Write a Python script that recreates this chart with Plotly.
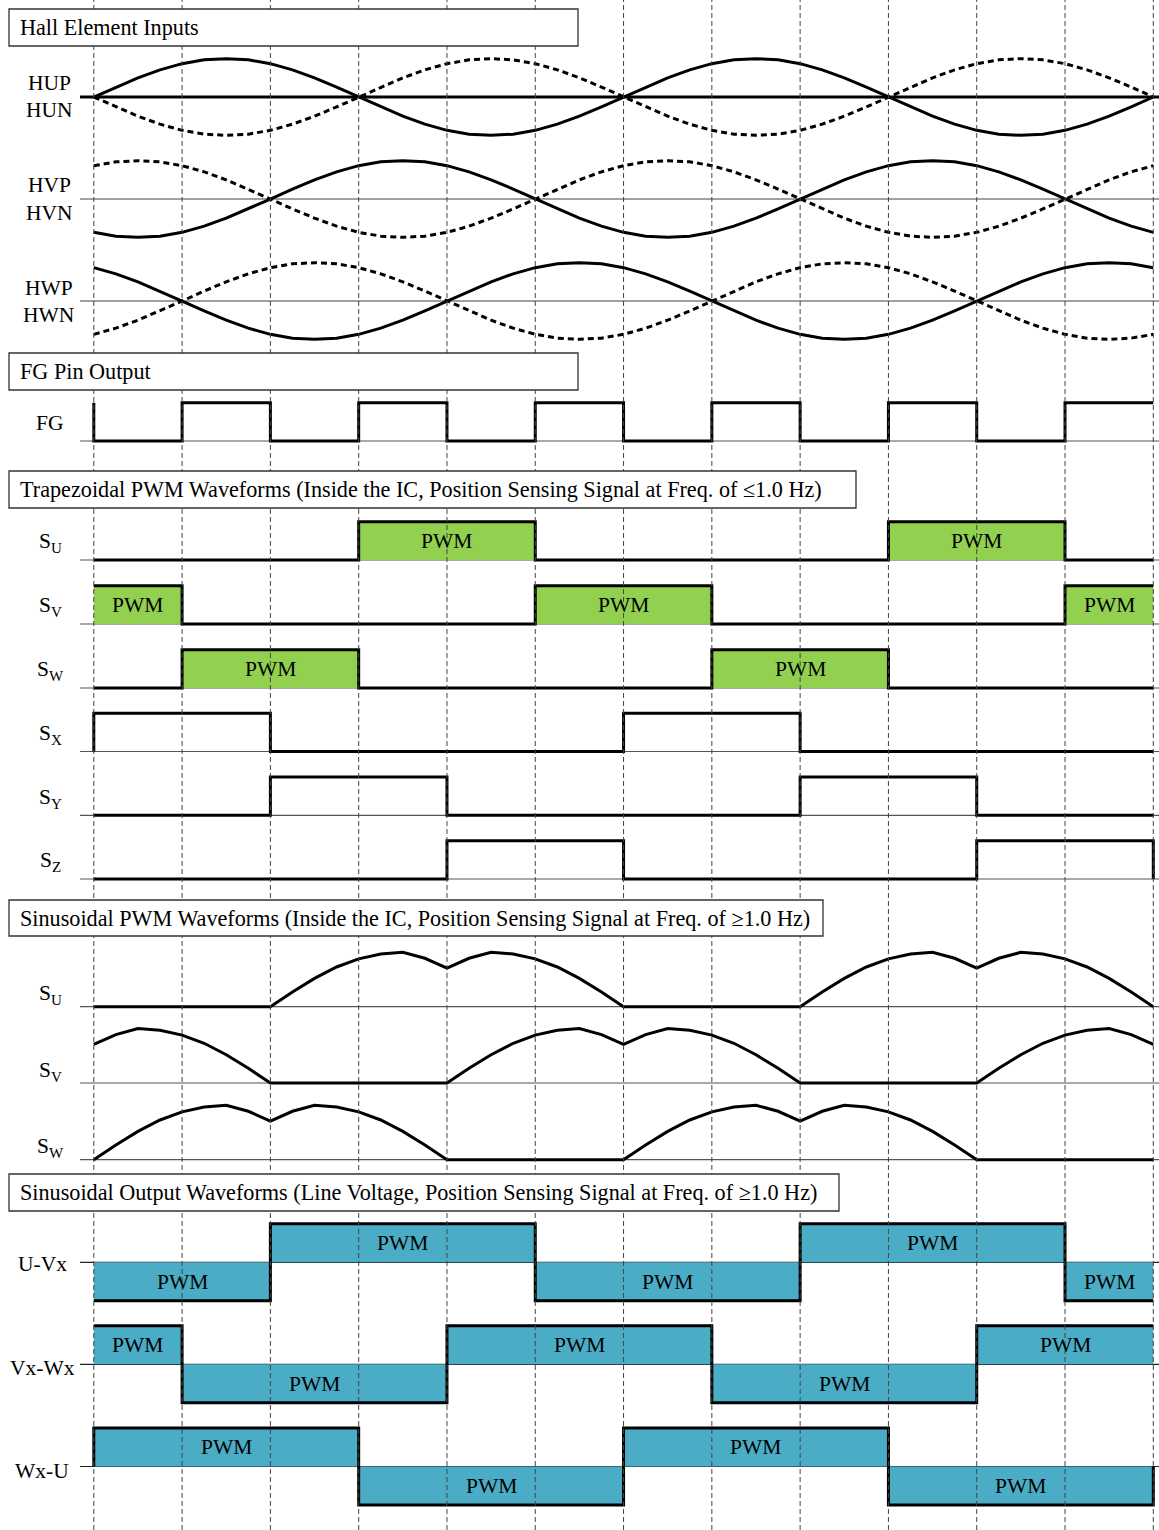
import plotly.graph_objects as go

W, H = 1159, 1530          # picture size
OFF = 0                     # body margin removed by post_script below
FW, FH = W - OFF, H - OFF
FONT = "Liberation Serif"
FS = 21.5
FS_TITLE = 22.2

# ---------------- data ----------------
SECTOR_EDGES = [0, 60, 120, 180, 240, 300, 360, 420, 480, 540, 600, 660, 720]
THETA = list(range(0, 721, 15))  # electrical degrees, sample positions

# Hall element inputs (normalised amplitude)
HUP = [0, .26, .5, .71, .87, .97, 1, .97, .87, .71, .5, .26, 0, -.26, -.5, -.71, -.87, -.97, -1, -.97, -.87, -.71, -.5, -.26, 0,
       .26, .5, .71, .87, .97, 1, .97, .87, .71, .5, .26, 0, -.26, -.5, -.71, -.87, -.97, -1, -.97, -.87, -.71, -.5, -.26, 0]
HUN = [0, -.26, -.5, -.71, -.87, -.97, -1, -.97, -.87, -.71, -.5, -.26, 0, .26, .5, .71, .87, .97, 1, .97, .87, .71, .5, .26, 0,
       -.26, -.5, -.71, -.87, -.97, -1, -.97, -.87, -.71, -.5, -.26, 0, .26, .5, .71, .87, .97, 1, .97, .87, .71, .5, .26, 0]
HVP = [-.87, -.97, -1, -.97, -.87, -.71, -.5, -.26, 0, .26, .5, .71, .87, .97, 1, .97, .87, .71, .5, .26, 0, -.26, -.5, -.71, -.87,
       -.97, -1, -.97, -.87, -.71, -.5, -.26, 0, .26, .5, .71, .87, .97, 1, .97, .87, .71, .5, .26, 0, -.26, -.5, -.71, -.87]
HVN = [.87, .97, 1, .97, .87, .71, .5, .26, 0, -.26, -.5, -.71, -.87, -.97, -1, -.97, -.87, -.71, -.5, -.26, 0, .26, .5, .71, .87,
       .97, 1, .97, .87, .71, .5, .26, 0, -.26, -.5, -.71, -.87, -.97, -1, -.97, -.87, -.71, -.5, -.26, 0, .26, .5, .71, .87]
HWP = [.87, .71, .5, .26, 0, -.26, -.5, -.71, -.87, -.97, -1, -.97, -.87, -.71, -.5, -.26, 0, .26, .5, .71, .87, .97, 1, .97, .87,
       .71, .5, .26, 0, -.26, -.5, -.71, -.87, -.97, -1, -.97, -.87, -.71, -.5, -.26, 0, .26, .5, .71, .87, .97, 1, .97, .87]
HWN = [-.87, -.71, -.5, -.26, 0, .26, .5, .71, .87, .97, 1, .97, .87, .71, .5, .26, 0, -.26, -.5, -.71, -.87, -.97, -1, -.97, -.87,
       -.71, -.5, -.26, 0, .26, .5, .71, .87, .97, 1, .97, .87, .71, .5, .26, 0, -.26, -.5, -.71, -.87, -.97, -1, -.97, -.87]

# Digital rows: [level before 0 deg, 12 sector levels, level after 720 deg]
FG = [1, 0, 1, 0, 1, 0, 1, 0, 1, 0, 1, 0, 1, 1]
TRAP_SU = [0, 0, 0, 0, 1, 1, 0, 0, 0, 0, 1, 1, 0, 0]
TRAP_SV = [1, 1, 0, 0, 0, 0, 1, 1, 0, 0, 0, 0, 1, 1]
TRAP_SW = [0, 0, 1, 1, 0, 0, 0, 0, 1, 1, 0, 0, 0, 0]
TRAP_SX = [0, 1, 1, 0, 0, 0, 0, 1, 1, 0, 0, 0, 0, 0]
TRAP_SY = [0, 0, 0, 1, 1, 0, 0, 0, 0, 1, 1, 0, 0, 0]
TRAP_SZ = [0, 0, 0, 0, 0, 1, 1, 0, 0, 0, 0, 1, 1, 0]

# Sinusoidal PWM (normalised, peak = 1)
SIN_SU = [0, 0, 0, 0, 0, 0, 0, 0, 0, .27, .52, .73, .88, .97, 1, .89, .71, .89, 1, .97, .88, .73, .52, .27, 0,
          0, 0, 0, 0, 0, 0, 0, 0, .27, .52, .73, .88, .97, 1, .89, .71, .89, 1, .97, .88, .73, .52, .27, 0]
SIN_SV = [.71, .89, 1, .97, .88, .73, .52, .27, 0, 0, 0, 0, 0, 0, 0, 0, 0, .27, .52, .73, .88, .97, 1, .89, .71,
          .89, 1, .97, .88, .73, .52, .27, 0, 0, 0, 0, 0, 0, 0, 0, 0, .27, .52, .73, .88, .97, 1, .89, .71]
SIN_SW = [0, .27, .52, .73, .88, .97, 1, .89, .71, .89, 1, .97, .88, .73, .52, .27, 0, 0, 0, 0, 0, 0, 0, 0, 0,
          .27, .52, .73, .88, .97, 1, .89, .71, .89, 1, .97, .88, .73, .52, .27, 0, 0, 0, 0, 0, 0, 0, 0, 0]

# Sinusoidal output line voltages
OUT_UV = [-1, -1, -1, 1, 1, 1, -1, -1, -1, 1, 1, 1, -1, -1]
OUT_VW = [1, 1, -1, -1, -1, 1, 1, 1, -1, -1, -1, 1, 1, 1]
OUT_WU = [0, 1, 1, 1, -1, -1, -1, 1, 1, 1, -1, -1, -1, 0]

SECTION_TITLES = [
    "Hall Element Inputs",
    "FG Pin Output",
    "Trapezoidal PWM Waveforms (Inside the IC, Position Sensing Signal at Freq. of \u22641.0 Hz)",
    "Sinusoidal PWM Waveforms (Inside the IC, Position Sensing Signal at Freq. of \u22651.0 Hz)",
    "Sinusoidal Output Waveforms (Line Voltage, Position Sensing Signal at Freq. of \u22651.0 Hz)",
]

# ---------------- layout constants (picture pixel coordinates) ----------------
X0_PX, X720_PX = 93.8, 1153.3
PX_PER_DEG = (X720_PX - X0_PX) / 720.0
XMIN = (OFF - X0_PX) / PX_PER_DEG
XMAX = (W - X0_PX) / PX_PER_DEG
BASE_START = (80 - X0_PX) / PX_PER_DEG


def fx(px):  # x pixel -> paper fraction
    return (px - OFF) / FW


def fy(py):  # y pixel -> paper fraction
    return (FH - (py - OFF)) / FH


# row: (baseline px, amplitude px, range lo, range hi)
ROWS = {
    "HU": (97, 38.3, -1.15, 1.15),
    "HV": (199, 38.3, -1.15, 1.15),
    "HW": (301, 38.3, -1.15, 1.15),
    "FG": (441, 38.3, -0.12, 1.12),
    "TU": (560, 38.3, -0.12, 1.12),
    "TV": (624, 38.3, -0.12, 1.12),
    "TW": (688, 38.3, -0.12, 1.12),
    "TX": (751.5, 38.3, -0.12, 1.12),
    "TY": (815.3, 38.3, -0.12, 1.12),
    "TZ": (879, 38.3, -0.12, 1.12),
    "PU": (1006.7, 54.4, -0.08, 1.08),
    "PV": (1083, 54.4, -0.08, 1.08),
    "PW": (1159.7, 54.4, -0.08, 1.08),
    "OUV": (1262.3, 38.5, -1.12, 1.12),
    "OVW": (1364.3, 38.5, -1.12, 1.12),
    "OWU": (1466.5, 38.5, -1.12, 1.12),
}

GREEN = "#92D050"
TEAL = "#4BACC6"

fig = go.Figure()
layout_axes = {}
axis_of = {}
for i, (key, (base, amp, lo, hi)) in enumerate(ROWS.items()):
    n = i + 1
    name = "yaxis" if n == 1 else f"yaxis{n}"
    ref = "y" if n == 1 else f"y{n}"
    bot_px = base - lo * amp
    top_px = base - hi * amp
    layout_axes[name] = dict(domain=[fy(bot_px), fy(top_px)], range=[lo, hi],
                             visible=False, showgrid=False, zeroline=False, anchor="x", fixedrange=True)
    axis_of[key] = ref


def baseline(key, color="#555555", width=1.2):
    fig.add_trace(go.Scatter(x=[BASE_START, XMAX], y=[0, 0], mode="lines",
                             line=dict(color=color, width=width), yaxis=axis_of[key],
                             hoverinfo="skip", showlegend=False))


def curve(key, ys, dash=None, width=3):
    fig.add_trace(go.Scatter(x=THETA, y=ys, mode="lines",
                             line=dict(color="black", width=width, dash=dash),
                             yaxis=axis_of[key], hoverinfo="skip", showlegend=False))


STEP_X = [SECTOR_EDGES[0]] + SECTOR_EDGES[:-1] + [SECTOR_EDGES[-1]]


def step(key, levels, fill=None):
    fig.add_trace(go.Scatter(x=STEP_X, y=levels, mode="lines", line_shape="hv",
                             line=dict(color="black", width=3),
                             fill="tozeroy" if fill else None, fillcolor=fill,
                             yaxis=axis_of[key], hoverinfo="skip", showlegend=False))


annotations = []


def pwm_labels(key, levels):
    sect = levels[1:-1]
    i = 0
    while i < len(sect):
        if sect[i] != 0:
            j = i
            while j + 1 < len(sect) and sect[j + 1] == sect[i]:
                j += 1
            xc = (SECTOR_EDGES[i] + SECTOR_EDGES[j + 1]) / 2
            annotations.append(dict(x=xc, y=sect[i] * 0.5, xref="x", yref=axis_of[key], text="PWM",
                                    showarrow=False, font=dict(family=FONT, size=FS, color="black")))
            i = j + 1
        else:
            i += 1


# Hall
baseline("HU", color="black", width=3)
baseline("HV", color="#808080", width=1.5)
baseline("HW", color="#808080", width=1.5)
DASH = "6px,4px"
curve("HU", HUN, dash=DASH); curve("HU", HUP)
curve("HV", HVN, dash=DASH); curve("HV", HVP)
curve("HW", HWN, dash=DASH); curve("HW", HWP)

# FG
baseline("FG")
step("FG", FG)

# Trapezoidal
for key, lv, fl in [("TU", TRAP_SU, GREEN), ("TV", TRAP_SV, GREEN), ("TW", TRAP_SW, GREEN),
                    ("TX", TRAP_SX, None), ("TY", TRAP_SY, None), ("TZ", TRAP_SZ, None)]:
    baseline(key)
    step(key, lv, fl)
    if fl:
        pwm_labels(key, lv)

# Sinusoidal PWM
for key, ys in [("PU", SIN_SU), ("PV", SIN_SV), ("PW", SIN_SW)]:
    baseline(key)
    curve(key, ys)

# Sinusoidal output
for key, lv in [("OUV", OUT_UV), ("OVW", OUT_VW), ("OWU", OUT_WU)]:
    baseline(key, color="#222222", width=1.2)
    step(key, lv, TEAL)
    pwm_labels(key, lv)

# Row labels: (text, row, y value, centre px)
LABELS = [
    ("HUP", "HU", 0.37, 49), ("HUN", "HU", -0.35, 49),
    ("HVP", "HV", 0.37, 49), ("HVN", "HV", -0.37, 49),
    ("HWP", "HW", 0.35, 49), ("HWN", "HW", -0.37, 49),
    ("FG", "FG", 0.47, 49),
    ("S<sub>U</sub>", "TU", 0.45, 50), ("S<sub>V</sub>", "TV", 0.45, 50), ("S<sub>W</sub>", "TW", 0.45, 50),
    ("S<sub>X</sub>", "TX", 0.45, 50), ("S<sub>Y</sub>", "TY", 0.45, 50), ("S<sub>Z</sub>", "TZ", 0.45, 50),
    ("S<sub>U</sub>", "PU", 0.22, 50), ("S<sub>V</sub>", "PV", 0.22, 50), ("S<sub>W</sub>", "PW", 0.22, 50),
    ("U-Vx", "OUV", -0.05, 42), ("Vx-Wx", "OVW", -0.1, 42), ("Wx-U", "OWU", -0.12, 42),
]
for txt, key, yv, px in LABELS:
    annotations.append(dict(x=fx(px), xref="paper", y=yv, yref=axis_of[key], text=txt, showarrow=False,
                            xanchor="center", yanchor="middle",
                            font=dict(family=FONT, size=FS, color="black")))

shapes = []
# vertical dashed timing lines
for e in SECTOR_EDGES:
    shapes.append(dict(type="line", xref="x", yref="paper", x0=e, x1=e, y0=0, y1=1, layer="above",
                       line=dict(color="#444444", width=1, dash="5px,3px")))

# section title boxes (x0, x1, y0, y1 in px)
BOX_PX = [(9, 578, 9, 46), (9, 578, 353, 390), (9, 856, 471, 508), (9, 823, 900, 936), (9, 839, 1174, 1211)]
for title, (bx0, bx1, by0, by1) in zip(SECTION_TITLES, BOX_PX):
    shapes.append(dict(type="rect", xref="paper", yref="paper", x0=fx(bx0), x1=fx(bx1),
                       y0=fy(by1), y1=fy(by0), layer="above", fillcolor="white",
                       line=dict(color="#333333", width=1.3)))
    annotations.append(dict(x=fx(18), xref="paper", y=fy((by0 + by1) / 2), yref="paper", text=title,
                            showarrow=False, xanchor="left", yanchor="middle",
                            font=dict(family=FONT, size=FS_TITLE, color="black")))

fig.update_layout(
    width=FW, height=FH, margin=dict(l=0, r=0, t=0, b=0),
    paper_bgcolor="white", plot_bgcolor="rgba(0,0,0,0)", showlegend=False,
    xaxis=dict(range=[XMIN, XMAX], visible=False, showgrid=False, zeroline=False, fixedrange=True, anchor="y"),
    shapes=shapes, annotations=annotations,
    **layout_axes,
)

fig.write_html("out.html", config={"displayModeBar": False},
               post_script="document.body.style.margin='0px';document.body.style.overflow='hidden';")
